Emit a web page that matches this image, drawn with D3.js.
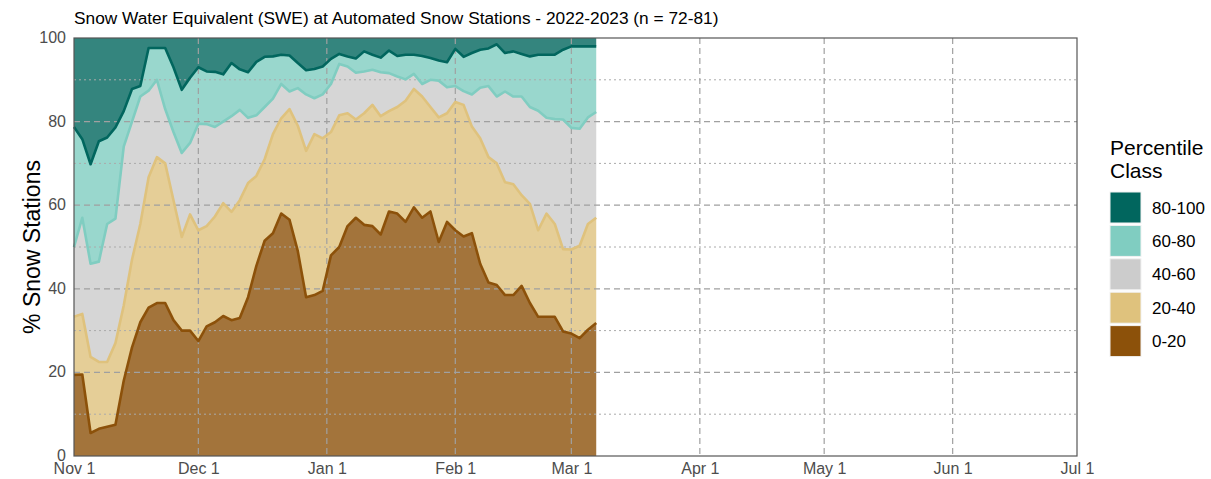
<!DOCTYPE html>
<html>
<head>
<meta charset="utf-8">
<script src="https://cdn.jsdelivr.net/npm/d3@7"></script>
<style>
  body { margin: 0; background: #fff; }
  svg { display: block; font-family: 'Liberation Sans', Arial, sans-serif; }
</style>
</head>
<body>
<svg id="chart" width="1211" height="479"></svg>
<script>
'use strict';
// days since Nov 1 2022, every second day up to Mar 7
const DAYS = d3.range(0, 127, 2);

// cumulative % of stations at or below each class boundary
const TOP_0_20 = [19.4, 19.5, 5.5, 6.5, 7, 7.5, 18, 26, 32, 35.5, 36.6, 36.6, 32.5, 30, 30, 27.5,
  31, 32, 33.5, 32.5, 33, 38, 45.5, 51.5, 53.3, 58, 56.5, 49, 38, 38.5, 39.5, 48,
  50, 55, 57, 55.3, 55, 53, 58.5, 58, 56, 59.5, 57, 58.5, 51.2, 56, 54, 52.5,
  53.3, 46, 41.5, 40.9, 38.5, 38.5, 40.7, 36.6, 33.3, 33.3, 33.3, 29.8, 29.3, 28.2, 30.2, 31.8];
const TOP_20_40 = [33.3, 34, 23.7, 22.5, 22.5, 27, 36, 47, 55.5, 66.7, 71.5, 70, 61.2, 52.4, 57.8, 54,
  55, 57.3, 60.5, 58.4, 61.2, 65.3, 67, 71, 77, 80.8, 83, 79, 73, 77, 76, 77.5,
  81.5, 82, 80.5, 82, 84, 81.3, 82.5, 83.5, 85, 87.8, 86, 83.5, 81, 82, 84.7, 84,
  78.8, 76, 71.5, 70, 65.5, 65, 62.4, 60.3, 54, 58, 55.5, 49.5, 49.4, 50.3, 55.5, 57];
const TOP_40_60 = [50, 57, 46, 46.5, 55.5, 56.8, 74, 80, 86, 87.4, 90, 83, 77.5, 72.5, 74.9, 79.5,
  79.4, 78.7, 80, 81.3, 82.8, 80.9, 81.5, 83.5, 85.5, 89, 87.2, 88, 86.5, 85.6, 86.5, 89,
  93.8, 93.2, 91.7, 92, 92.4, 91.8, 91.6, 90.8, 90.1, 91.4, 89, 90, 89.8, 88.2, 88.5, 87.3,
  86.5, 88.1, 88.5, 86, 87.2, 86, 86, 83.5, 82.6, 80.9, 80.6, 80.5, 78.5, 78.3, 81, 82.3];
const TOP_60_80 = [78.7, 75.8, 69.8, 75.3, 76.2, 78.6, 82.5, 87.8, 88.5, 97.6, 97.6, 97.6, 93, 87.6, 90.5, 93,
  92, 91.9, 91.3, 94, 92.5, 91.8, 94.3, 95.5, 95.6, 96, 95.8, 94, 92.3, 92.6, 93.2, 95,
  96.2, 95.6, 95.1, 96.8, 96, 95.3, 97, 95.7, 96, 96, 95.7, 95.2, 94.6, 94.2, 97.4, 95.5,
  96.4, 97.2, 97.5, 98.5, 96.4, 96.8, 96.2, 95.6, 96, 96, 96, 97.2, 98, 98, 98, 98];

const CLASSES = ['0-20', '20-40', '40-60', '60-80', '80-100'];
const COLORS = ['#8c510a', '#dfc27d', '#cccccc', '#80cdc1', '#01665e'];
const LINE_COLORS = ['#8c510a', '#dfc27d', '#80cdc1', '#01665e'];
const MONTH_TICKS = ['Nov 1', 'Dec 1', 'Jan 1', 'Feb 1', 'Mar 1', 'Apr 1', 'May 1', 'Jun 1', 'Jul 1'];
const MONTH_DATES = [[2022, 10], [2022, 11], [2023, 0], [2023, 1], [2023, 2], [2023, 3], [2023, 4], [2023, 5], [2023, 6]];
const Y_TICKS = [0, 20, 40, 60, 80, 100];
const Y_MINOR = [10, 30, 50, 70, 90];

const margin = { top: 38, right: 134, bottom: 23, left: 74 };
const W = 1211, H = 479;
const svg = d3.select('#chart');

const start = Date.UTC(2022, 10, 1);
const dates = DAYS.map((d) => new Date(start + d * 864e5));
const monthDates = MONTH_DATES.map(([y, m]) => new Date(Date.UTC(y, m, 1)));

const x = d3.scaleUtc()
  .domain([monthDates[0], monthDates[monthDates.length - 1]])
  .range([margin.left, W - margin.right]);
const y = d3.scaleLinear().domain([0, 100]).range([H - margin.bottom, margin.top]);

const zeros = DAYS.map(() => 0);
const hundreds = DAYS.map(() => 100);
const bounds = [zeros, TOP_0_20, TOP_20_40, TOP_40_60, TOP_60_80, hundreds];

// areas
const area = (lo, hi) => d3.area()
  .x((d, i) => x(dates[i]))
  .y0((d, i) => y(lo[i]))
  .y1((d, i) => y(hi[i]));

svg.append('g')
  .selectAll('path')
  .data(CLASSES)
  .enter()
  .append('path')
  .attr('fill', (d, i) => COLORS[i])
  .attr('fill-opacity', 0.8)
  .attr('d', (d, i) => area(bounds[i], bounds[i + 1])(DAYS));

// grid
const grid = svg.append('g');
grid.selectAll('.ymin')
  .data(Y_MINOR)
  .enter()
  .append('line')
  .attr('x1', margin.left).attr('x2', W - margin.right)
  .attr('y1', (d) => y(d)).attr('y2', (d) => y(d))
  .attr('stroke', '#aaa').attr('stroke-width', 1).attr('stroke-dasharray', '2,3');
grid.selectAll('.ymaj')
  .data(Y_TICKS.slice(1, -1))
  .enter()
  .append('line')
  .attr('x1', margin.left).attr('x2', W - margin.right)
  .attr('y1', (d) => y(d)).attr('y2', (d) => y(d))
  .attr('stroke', '#a0a0a0').attr('stroke-width', 1.2).attr('stroke-dasharray', '6,4');
grid.selectAll('.xmaj')
  .data(monthDates.slice(1, -1))
  .enter()
  .append('line')
  .attr('x1', (d) => x(d)).attr('x2', (d) => x(d))
  .attr('y1', margin.top).attr('y2', H - margin.bottom)
  .attr('stroke', '#a0a0a0').attr('stroke-width', 1.2).attr('stroke-dasharray', '6,4');

// boundary lines
const line = (vals) => d3.line()
  .x((d, i) => x(dates[i]))
  .y((d, i) => y(vals[i]));

svg.append('g')
  .selectAll('path')
  .data(LINE_COLORS)
  .enter()
  .append('path')
  .attr('fill', 'none')
  .attr('stroke', (d) => d)
  .attr('stroke-width', 2.6)
  .attr('stroke-linejoin', 'round')
  .attr('d', (d, i) => line(bounds[i + 1])(DAYS));

// panel border
svg.append('rect')
  .attr('x', margin.left).attr('y', margin.top)
  .attr('width', W - margin.right - margin.left)
  .attr('height', H - margin.bottom - margin.top)
  .attr('fill', 'none').attr('stroke', '#555').attr('stroke-width', 1.2);

// axes
svg.append('g')
  .attr('transform', `translate(0,${H - margin.bottom})`)
  .call(d3.axisBottom(x).tickValues(monthDates).tickFormat((d, i) => MONTH_TICKS[i]).tickSize(0).tickPadding(7))
  .call((g) => g.select('.domain').remove())
  .call((g) => g.selectAll('text').attr('fill', '#4d4d4d').style('font-size', '16px'));

svg.append('g')
  .attr('transform', `translate(${margin.left},0)`)
  .call(d3.axisLeft(y).tickValues(Y_TICKS).tickSize(0).tickPadding(8))
  .call((g) => g.select('.domain').remove())
  .call((g) => g.selectAll('text').attr('fill', '#4d4d4d').attr('dy', '0.28em').style('font-size', '16px'));

svg.append('text')
  .attr('transform', `translate(40,${(margin.top + H - margin.bottom) / 2}) rotate(-90)`)
  .attr('text-anchor', 'middle')
  .style('font-size', '23px')
  .text('% Snow Stations');

svg.append('text')
  .attr('x', margin.left).attr('y', 24)
  .style('font-size', '17.3px')
  .text('Snow Water Equivalent (SWE) at Automated Snow Stations - 2022-2023 (n = 72-81)');

// legend
const legend = svg.append('g').attr('transform', 'translate(1110,0)');
legend.append('text').attr('y', 155).style('font-size', '21px').text('Percentile');
legend.append('text').attr('y', 178).style('font-size', '21px').text('Class');
const items = legend.selectAll('.item')
  .data(CLASSES.slice().reverse())
  .enter()
  .append('g')
  .attr('transform', (d, i) => `translate(0,${192 + i * 33.4})`);
items.append('rect')
  .attr('width', 31).attr('height', 31)
  .attr('fill', (d, i) => COLORS[COLORS.length - 1 - i])
  .attr('stroke', '#f2f2f2');
items.append('text')
  .attr('x', 42).attr('y', 21.5)
  .style('font-size', '17px')
  .text((d) => d);
</script>
</body>
</html>
